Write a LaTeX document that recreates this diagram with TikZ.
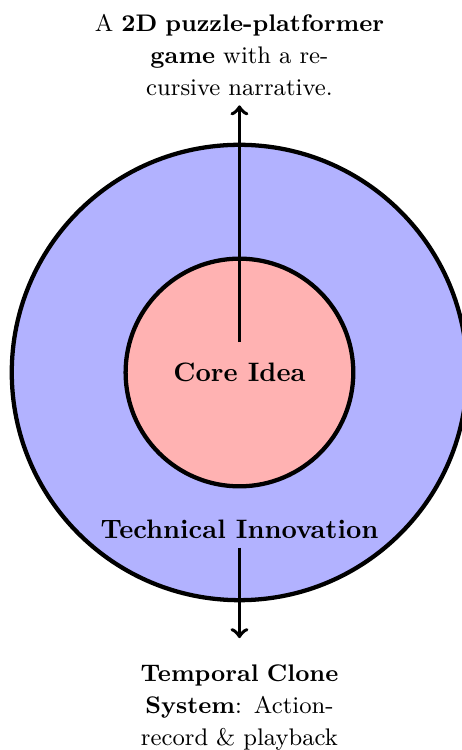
\documentclass[tikz,border=0pt]{standalone}
\begin{document}
\begin{tikzpicture}[
  ring/.style={circle, draw, line width=1.6pt, inner sep=0pt},
  heading/.style={font=\bfseries},
  note/.style={text width=3.9cm, align=center, font=\fontsize{9}{12}\selectfont},
  arrowline/.style={->, line width=1.4pt}
]
\useasboundingbox (-3.155,-4.974) rectangle (2.931,4.908);
% nested layers
\node[ring, fill=blue!30, minimum size=6cm] (outer) at (0,0) {};
\node[ring, fill=red!30, minimum size=3cm] (inner) at (0,0) {};
% layer titles
\node[heading] (core) at (0,0) {Core Idea};
\node[heading] (tech) at (0,-2.06) {Technical Innovation};
% descriptions
\node[note, anchor=south] (game) at (0,3.52)
  {A \textbf{2D puzzle-platformer}\\ \textbf{game} with a re-\\cursive narrative.};
\node[note, anchor=north] (clone) at (0,-3.72)
  {\textbf{Temporal Clone}\\ \textbf{System}: Action-\\record \& playback};
% arrow end points
\coordinate (coreTop) at (0,0.4);
\coordinate (cloneTop) at (0,-3.5);
% links
\draw[arrowline] (coreTop) -- (game);
\draw[arrowline] (tech) -- (cloneTop);
\end{tikzpicture}
\end{document}
